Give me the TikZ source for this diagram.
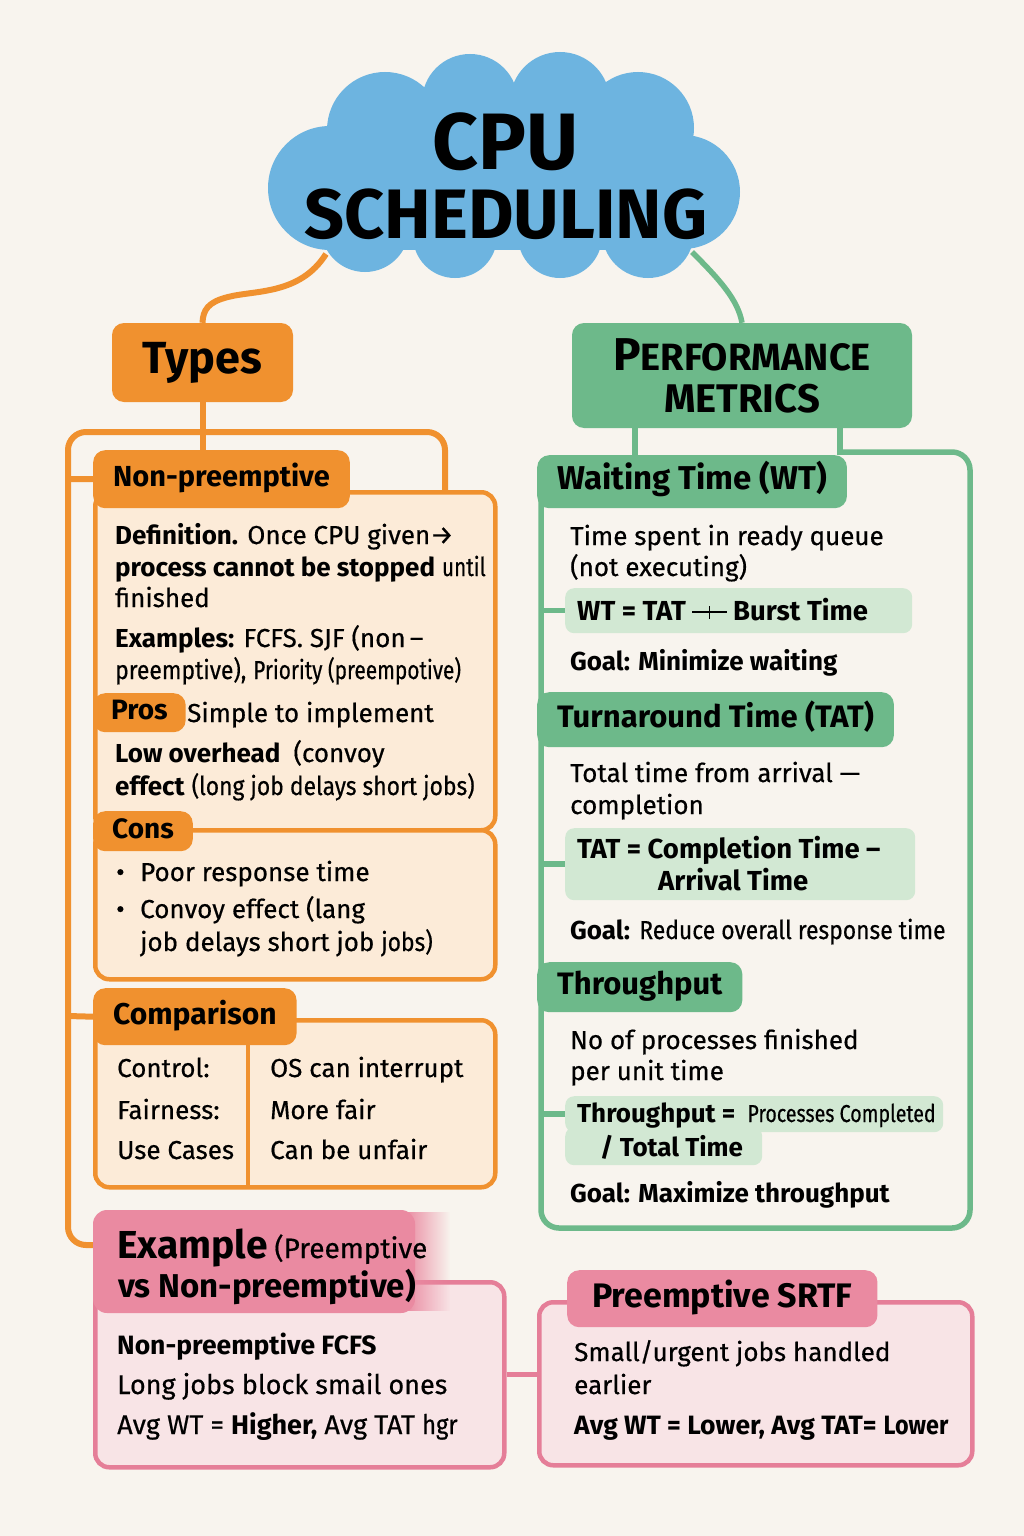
\documentclass[tikz,border=0pt]{standalone}
\usepackage{fontspec}
\setmainfont{Fira Sans}[UprightFeatures={FakeBold=0.45}]
\newfontfamily\cnd{Fira Sans}[FakeStretch=0.88, UprightFeatures={FakeBold=0.45}]
\newfontfamily\cndd{Fira Sans}[FakeStretch=0.8, UprightFeatures={FakeBold=0.45}]
\usetikzlibrary{fadings}
\newcommand\fsz[1]{\fontsize{#1}{#1}\selectfont}
\newcommand\crossdash{\ooalign{\hfil\rule[0.27em]{1.25em}{1.6pt}\hfil\cr\hfil\rule[0.05em]{1.6pt}{0.45em}\hfil}}
\definecolor{bg}{HTML}{F8F4EE}
\definecolor{org}{HTML}{F0912F}
\definecolor{orgfill}{HTML}{FCEBD8}
\definecolor{grn}{HTML}{6DB98A}
\definecolor{grnlt}{HTML}{D2E8D3}
\definecolor{blu}{HTML}{6DB4E0}
\definecolor{pnk}{HTML}{E57E98}
\definecolor{pnkhdr}{HTML}{EA8AA1}
\definecolor{pnkfill}{HTML}{F8E4E6}
\tikzset{
  txt/.style={anchor=base west, inner sep=0pt, font=\fsz{26}},
  tabshape/.style={rounded corners=12pt, anchor=north west, inner xsep=20pt, inner ysep=0pt},
  tabbase/.style={tabshape, font=\bfseries\fsz{29}, text height=21pt, text depth=6pt},
  otab/.style={tabbase, fill=org},
  gtab/.style={tabbase, fill=grn, font=\bfseries\fsz{31}, text height=22pt, text depth=7pt},
  ptab/.style={tabbase, fill=pnkhdr},
  obody/.style={draw=org, line width=4.5pt, fill=orgfill, rounded corners=14pt, anchor=north west, inner sep=0pt},
  pbody/.style={draw=pnk, line width=4.5pt, fill=pnkfill, rounded corners=14pt, anchor=north west, inner sep=0pt},
  gform/.style={fill=grnlt, rounded corners=9pt, anchor=north west, inner sep=0pt},
  oline/.style={draw=org, line width=6pt, rounded corners=18pt},
  gline/.style={draw=grn, line width=5.5pt, rounded corners=18pt},
  pline/.style={draw=pnk, line width=5pt},
}
\begin{document}
\begin{tikzpicture}[x=1pt,y=-1pt]
\useasboundingbox (0,0) rectangle (1024,1536);
\fill[bg] (0,0) rectangle (1024,1536);

% ---------- cloud ----------
\fill[blu] (330,188) circle (62pt) (385,130) circle (58pt) (470,102) circle (48pt)
  (560,102) circle (50pt) (638,128) circle (56pt) (683,192) circle (57pt)
  (648,232) circle (46pt) (560,236) circle (42pt) (455,236) circle (42pt) (365,228) circle (44pt);
\fill[blu] (335,120) rectangle (690,250);
\node[font=\bfseries\fsz{80}, inner sep=0pt] (cpu) at (506,142) {CPU};
\node[font=\bfseries\fsz{70}, inner sep=0pt] (sched) at (506,214) {SCHEDULING};
\coordinate (cloudL) at (326,254);
\coordinate (cloudR) at (692,252);

% ---------- top category boxes ----------
\node[otab, anchor=center, minimum width=181pt, minimum height=79pt, font=\bfseries\fsz{45}, text height=31pt, text depth=10pt] (types) at (202.5,362.5) {Types};
\node[tabshape, fill=grn, anchor=center, minimum width=340pt, minimum height=105pt, align=center, font=\bfseries\fsz{30}] (perf) at (742,375.5)
  {{\fsz{46}P}{\fsz{38}ERFORMANCE}\\[12pt]{\fsz{40}METRICS}};
\draw[oline, rounded corners=0pt] (cloudL) .. controls (300,295) and (255,290) .. (228,297) .. controls (208,302) and (203,310) .. (types.north);
\draw[gline, rounded corners=0pt] (cloudR) .. controls (720,280) and (738,300) .. (perf.north);

% ---------- orange frame ----------
\coordinate (oTL) at (68,432);
\coordinate (oTR) at (445,432);
\coordinate (oBL) at (68,1245);
\coordinate (oBE) at (100,1245);
\coordinate (oRE) at (445,495);
\draw[oline] (oRE) -- (oTR) -- (oTL) -- (oBL) -- (oBE);
\draw[oline] (types.south) -- ++(0,55);
\coordinate (oB1) at (68,479);
\coordinate (oB2) at (68,1016);

% ---------- Non-preemptive ----------
\node[obody, minimum width=400pt, minimum height=338pt] (npTop) at (93,490) {};
\node[obody, minimum width=400pt, minimum height=149pt] (npCons) at (93,828) {};
\node[otab, minimum height=58pt] (nphdr) at (93,450) {Non-preemptive};
\draw[oline] (oB1) -- (nphdr.west);
\node[otab, minimum height=39pt, inner xsep=18pt, font=\bfseries\fsz{28}, text height=19pt, text depth=5pt] (pros) at (93,693) {Pros};
\node[otab, minimum height=40pt, inner xsep=19pt, font=\bfseries\fsz{28}, text height=19pt, text depth=5pt] (cons) at (93,811) {Cons};

\node[txt] (np1) at (115,544) {\textbf{Definition.} Once CPU given→};
\node[txt] (np2) at (115,576) {\textbf{process cannot be stopped} {\cndd until}};
\node[txt] (np3) at (115,607) {finished};
\node[txt] (np4) at (115,647) {\textbf{Examples:} FCFS. SJF (non\,–};
\node[txt] (np5) at (115,679) {{\cnd preemptive),} {\cndd Priority (preempotive)}};
\node[txt] (np6) at (187,722) {Simple to implement};
\node[txt] (np7) at (115,762) {\textbf{Low overhead}\enspace (convoy};
\node[txt] (np8) at (115,795) {\textbf{effect} {\cnd (long job delays short jobs)}};
\node[txt] (np9) at (116,881) {\makebox[24pt][l]{•}Poor response time};
\node[txt] (np10) at (116,918) {\makebox[24pt][l]{•}Convoy effect (lang};
\node[txt] (np11) at (140,951) {job delays short job {\cnd jobs)}};

% ---------- Comparison ----------
\node[obody, minimum width=400pt, minimum height=167pt] (cmpbody) at (93,1018) {};
\node[otab, minimum height=57pt, font=\bfseries\fsz{30}] (cmphdr) at (93,988) {Comparison};
\draw[oline] (oB2) -- (cmphdr.west);
\draw[org, line width=4pt] (248,1044) -- (248,1185);
\node[txt] (c1) at (117,1077) {Control:};
\node[txt] (c2) at (117,1119) {Fairness:};
\node[txt] (c3) at (117,1159) {Use Cases};
\node[txt] (c4) at (270,1077) {OS can interrupt};
\node[txt] (c5) at (270,1119) {More fair};
\node[txt] (c6) at (270,1159) {Can be unfair};

% ---------- Example ----------
\node[pbody, minimum width=409pt, minimum height=185pt] (exbody) at (93,1280) {};
\fill[pnkhdr, rounded corners=14pt] (93,1210) rectangle (415,1313);
\fill[pnkhdr, path fading=east] (405,1212) rectangle (450,1311);
\node[txt] (ex1) at (117,1258) {{\bfseries\fsz{39}Example} {\fsz{28}(Preemptive}};
\node[txt, font=\bfseries\fsz{33}] (ex2) at (118,1297) {vs Non-preemptive)};
\node[txt, font=\bfseries\fsz{26.5}] (ex3) at (117,1354) {Non-preemptive FCFS};
\node[txt, font=\fsz{27}] (ex4) at (117,1394) {Long jobs block smail ones};
\node[txt, font=\fsz{27}] (ex5) at (117,1434) {Avg WT = \textbf{Higher,} Avg TAT {\cnd hgr}};

% ---------- Preemptive SRTF ----------
\node[pbody, minimum width=433pt, minimum height=163pt] (srbody) at (537,1300) {};
\node[ptab, minimum height=57pt, inner xsep=25pt, font=\bfseries\fsz{34}, text height=24pt, text depth=7pt] (srhdr) at (567,1270) {Preemptive SRTF};
\draw[pline] (exbody.east) -- (exbody.east -| srbody.west);
\node[txt] (s1) at (574,1361) {Small/urgent jobs handled};
\node[txt] (s2) at (574,1394) {earlier};
\node[txt, font=\fsz{26.5}] (s3) at (574,1434) {\textbf{Avg WT = Lower, Avg TAT=} {\cnd\bfseries Lower}};

% ---------- green frame ----------
\coordinate (gL) at (541,0);
\coordinate (gTL) at (838,452);
\coordinate (gTR) at (970,452);
\coordinate (gBR) at (970,1228);
\coordinate (gBL) at (541,1228);
\coordinate (gLT) at (541,475);
\draw[gline] (perf.south west) ++(63,0) -- ++(0,32);
\draw[gline, rounded corners=0pt] (perf.south west) ++(268,0) -- ++(0,27);
\draw[gline] (gTL) -- (gTR) -- (gBR) -- (gBL) -- (gLT);

\node[gtab, minimum height=53pt, font=\bfseries\fsz{33}, text height=23pt, text depth=7pt] (wth) at (537,455) {Waiting Time (WT)};
\node[gtab, minimum height=55pt] (tath) at (537,692) {Turnaround Time (TAT)};
\node[gtab, minimum height=50pt] (thh) at (537,962) {Throughput};

\node[gform, minimum width=347pt, minimum height=45pt] (wtf) at (565,588) {};
\node[gform, minimum width=350pt, minimum height=72pt] (tatf) at (565,828) {};
\node[gform, minimum width=378pt, minimum height=36pt] (thfu) at (565,1096) {};
\node[gform, minimum width=197pt, minimum height=38pt] (thfl) at (565,1127) {};
\draw[gline, rounded corners=0pt] (wtf.west -| gL) -- (wtf.west);
\draw[gline, rounded corners=0pt] (tatf.west -| gL) -- (tatf.west);
\draw[gline, rounded corners=0pt] (thfu.west -| gL) -- (thfu.west);

\node[txt] (g1) at (570,545) {Time spent in ready queue};
\node[txt] (g2) at (570,576) {(not executing)};
\node[txt, font=\bfseries\fsz{27.5}] (g3) at (577,620) {WT = TAT \crossdash\ Burst Time};
\node[txt, font=\bfseries\fsz{26}] (g4) at (570,670) {Goal: Minimize waiting};
\node[txt] (g5) at (570,782) {Total time from arrival —};
\node[txt] (g6) at (570,814) {completion};
\node[txt, font=\bfseries\fsz{27.5}] (g7) at (577,858) {TAT = Completion Time –};
\node[txt, font=\bfseries\fsz{27.5}] (g8) at (658,890) {Arrival Time};
\node[txt] (g9) at (570,939) {\textbf{Goal:} {\cnd Reduce overall response time}};
\node[txt] (g10) at (570,1049) {No of processes finished};
\node[txt] (g11) at (570,1080) {per unit time};
\node[txt] (g12) at (577,1122) {\textbf{Throughput =} {\cndd\fsz{24.5} Processes Completed}};
\node[txt, font=\bfseries\fsz{26}] (g13) at (600,1156) {/ Total Time};
\node[txt, font=\bfseries\fsz{26}] (g14) at (570,1202) {Goal: Maximize throughput};
\end{tikzpicture}
\end{document}
